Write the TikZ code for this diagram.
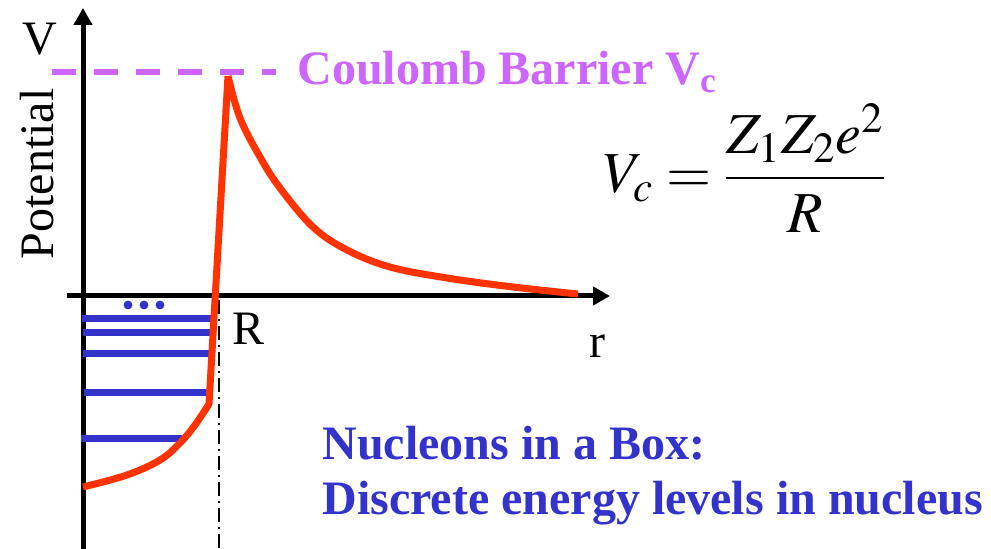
\documentclass[tikz,border=0pt]{standalone}
\usepackage{amsmath}
\usepackage{mathptmx}
\usepackage{fontspec}
\setmainfont{Liberation Serif}
\usepackage{tikz}
\usetikzlibrary{arrows.meta,positioning,calc}
\definecolor{barrierViolet}{RGB}{204,102,255}
\definecolor{potRed}{RGB}{255,51,0}
\definecolor{levelBlue}{RGB}{51,51,204}

\begin{document}
\begin{tikzpicture}[
    x=0.5pt, y=-0.5pt,
    axis/.style={line width=2.5pt, -{Triangle[length=8.5pt,width=9pt]}},
    barrier/.style={line width=3pt, barrierViolet, dash pattern=on 12pt off 9pt},
    potline/.style={line width=3.5pt, potRed, line join=round},
    level/.style={line width=3.5pt, levelBlue},
    edge/.style={line width=1pt, dash pattern=on 7pt off 2.5pt on 1pt off 2.5pt},
    label/.style={font=\fontsize{24}{28}\selectfont, inner sep=0pt},
    boldlabel/.style={font=\fontsize{24}{28}\selectfont\bfseries, inner sep=0pt}
]
    \useasboundingbox (0,0) rectangle (991,549);

    % axes
    \coordinate (origin) at (83,296);
    \coordinate (vbottom) at (83,549);
    \coordinate (vtop) at (83,8);
    \coordinate (hleft) at (67,296);
    \coordinate (hright) at (610,296);
    \draw[axis] (vbottom) -- (vtop);
    \draw[axis] (hleft) -- (hright);

    % nuclear radius
    \coordinate (radtop) at (219,300);
    \coordinate (radbottom) at (219,549);
    \draw[edge] (radtop) -- (radbottom);

    % barrier height
    \coordinate (vcleft) at (52,72);
    \coordinate (vcright) at (276,72);
    \draw[barrier] (vcleft) -- (vcright);

    % energy levels
    \foreach \y/\xa/\xb in {319/82/216, 333/83/214, 354/83/210, 393/84/211, 439/81/182}
        \draw[level] (\xa,\y) -- (\xb,\y);
    \foreach \x in {128,144,160}
        \fill[levelBlue] (\x,305) circle (2.2pt);

    % potential
    \draw[potline] plot[smooth, tension=0.6] coordinates
        {(83,487) (127,475) (160,460) (180,443) (195,425) (209,404)}
        -- (228,76)
        plot[smooth, tension=0.6] coordinates
        {(228,76) (240,118) (260,157) (280,188) (313,227) (347,250)
         (390,267) (447,278) (513,287) (578,294)};

    % labels
    \node[label] (vlabel) at (40,39) {V};
    \node[label, rotate=90] (potlabel) at (37,174) {Potential};
    \node[label, anchor=base west] (rlabel) at (232,345) {R};
    \node[label, anchor=base west] (raxis) at (589,358) {r};
    \node[boldlabel, barrierViolet, anchor=base west] (vclabel) at (297,85)
        {Coulomb Barrier V\textsubscript{c}};
    \node[font=\fontsize{29}{33}\selectfont, inner sep=0pt] (formula) at (745,168)
        {$V_c = \dfrac{Z_1Z_2e^2}{R}$};
    \node[boldlabel, levelBlue, anchor=base west] (box1) at (322,460)
        {Nucleons in a Box:};
    \node[boldlabel, levelBlue, anchor=base west] (box2) at (322,515)
        {Discrete energy levels in nucleus};
\end{tikzpicture}
\end{document}
